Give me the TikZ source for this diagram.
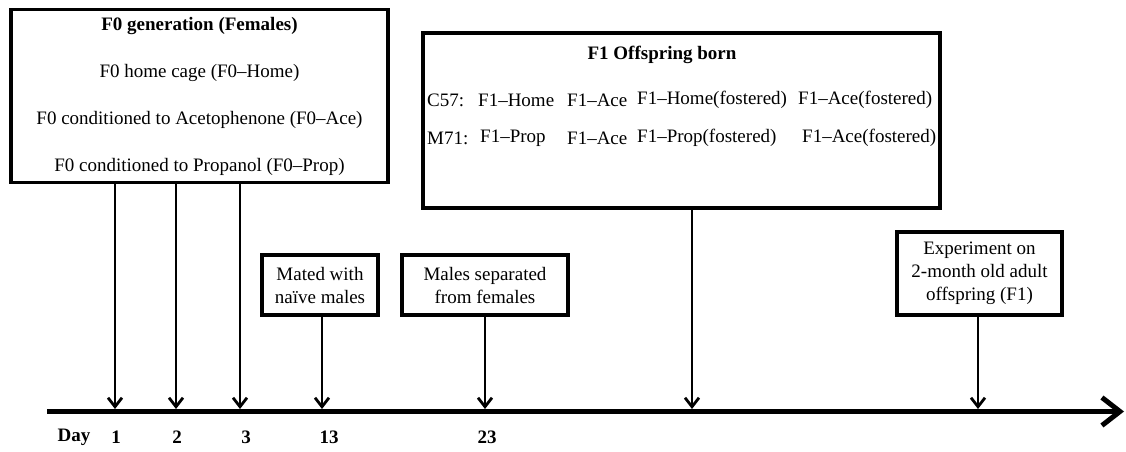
\documentclass[tikz,border=0pt]{standalone}
\usepackage{fontspec}
\setmainfont{Liberation Serif}
\usetikzlibrary{arrows.meta,positioning}

\tikzset{
  stagebox/.style={draw, line width=3.5pt, align=center, inner sep=0pt},
  rowtext/.style={anchor=west, inner sep=0pt},
  dayarrow/.style={-{Straight Barb[length=9pt,width=14pt]}, line width=2.8pt},
  daylabel/.style={font=\fontsize{19}{22}\selectfont\bfseries},
}

\begin{document}
\begin{tikzpicture}[x=1pt, y=-1pt, font=\fontsize{19}{23}\selectfont]
  \useasboundingbox (0,0) rectangle (1126,451);
  % F0 generation box
  \node[stagebox, minimum width=377pt, minimum height=173pt,
    font=\fontsize{19}{47}\selectfont] (f0) at (199.5,96)
    {\textbf{F0 generation (Females)}\\F0 home cage (F0--Home)\\
     F0 conditioned to Acetophenone (F0--Ace)\\F0 conditioned to Propanol (F0--Prop)};
  % F1 offspring box
  \node[stagebox, minimum width=517pt, minimum height=175pt] (f1) at (681.5,120.5) {};
  \node[font=\fontsize{19}{22}\selectfont\bfseries] (f1title) at (662,55) {F1 Offspring born};
  % C57 row
  \node[rowtext] (c57) at (427,100) {C57:};
  \node[rowtext] (c57home) at (478,100) {F1--Home};
  \node[rowtext] (c57ace) at (567,100) {F1--Ace};
  \node[rowtext] (c57homef) at (637,100) {F1--Home(fostered)};
  \node[rowtext] (c57acef) at (798,100) {F1--Ace(fostered)};
  % M71 row
  \node[rowtext] (m71) at (427,138) {M71:};
  \node[rowtext] (m71prop) at (480,138) {F1--Prop};
  \node[rowtext] (m71ace) at (567,138) {F1--Ace};
  \node[rowtext] (m71propf) at (637,138) {F1--Prop(fostered)};
  \node[rowtext] (m71acef) at (802,138) {F1--Ace(fostered)};
  % small event boxes
  \node[stagebox, minimum width=116pt, minimum height=60pt] (mated) at (320,285)
    {Mated with\\naïve males};
  \node[stagebox, minimum width=166pt, minimum height=60pt] (separated) at (485,285)
    {Males separated\\from females};
  \node[stagebox, minimum width=165pt, minimum height=83pt] (experiment) at (979.5,273.5)
    {Experiment on\\2-month old adult\\offspring (F1)};
  % time line
  \coordinate (t0) at (47,411.5);
  \coordinate (t1) at (1124,411.5);
  \draw[line width=5pt, -{Straight Barb[length=18pt,width=28pt]}] (t0) -- (t1);
  % points on the time line
  \coordinate (d1) at (115,409);
  \coordinate (d2) at (176,409);
  \coordinate (d3) at (240,409);
  \coordinate (d13) at (322,409);
  \coordinate (d23) at (485,409);
  \coordinate (dbirth) at (692,409);
  \coordinate (dexp) at (978,409);
  % arrows down to the time line
  \draw[dayarrow] (f0.south -| d1) -- (d1);
  \draw[dayarrow] (f0.south -| d2) -- (d2);
  \draw[dayarrow] (f0.south -| d3) -- (d3);
  \draw[dayarrow] (mated.south -| d13) -- (d13);
  \draw[dayarrow] (separated.south -| d23) -- (d23);
  \draw[dayarrow] (f1.south -| dbirth) -- (dbirth);
  \draw[dayarrow] (experiment.south -| dexp) -- (dexp);
  % day labels
  \node[daylabel] (lday) at (74,437) {Day};
  \node[daylabel] (l1) at (116,437) {1};
  \node[daylabel] (l2) at (177,437) {2};
  \node[daylabel] (l3) at (246,437) {3};
  \node[daylabel] (l13) at (329,437) {13};
  \node[daylabel] (l23) at (487,437) {23};
\end{tikzpicture}
\end{document}
